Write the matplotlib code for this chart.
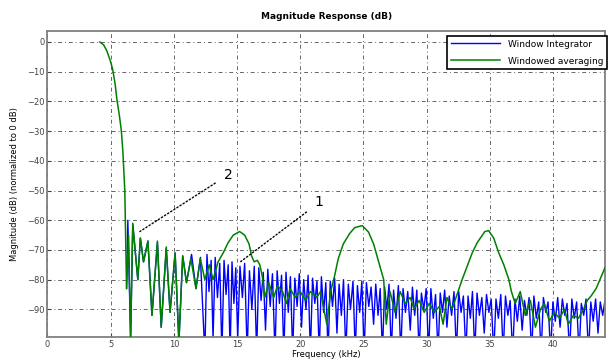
import matplotlib
matplotlib.use("Agg")
from matplotlib import pyplot as plt

# readings from the picture (kHz, dB)
green_freq = [4.15, 4.45, 4.7, 4.95, 5.15, 5.35, 5.5, 5.7, 5.85, 5.97, 6.05, 6.12,
              6.26, 6.42, 6.58, 6.75, 7.15, 7.35, 7.6, 7.95, 8.27, 8.7, 9.0, 9.4,
              9.7, 10.1, 10.4, 10.7, 11.0, 11.35, 11.75, 12.1, 12.45, 12.8, 13.1, 13.5,
              13.9, 14.3, 14.7, 15.2, 15.6, 15.95, 16.15, 16.35, 16.6, 16.8, 17.0, 17.2,
              17.5, 17.9, 18.2, 18.6, 18.9, 19.2, 19.6, 20.0, 20.4, 20.8, 21.3, 21.6,
              22.1, 22.4, 22.7, 23.0, 23.4, 23.9, 24.3, 24.9, 25.4, 25.8, 26.2, 26.6,
              26.8, 27.1, 27.5, 27.9, 28.3, 28.7, 29.0, 29.4, 29.8, 30.2, 30.6, 31.0,
              31.3, 31.6, 32.0, 32.4, 32.8, 33.2, 33.6, 34.0, 34.6, 34.9, 35.3, 35.7,
              36.1, 36.5, 36.7, 37.0, 37.4, 37.8, 38.2, 38.6, 39.0, 39.3, 39.7, 40.1,
              40.5, 40.9, 41.2, 41.6, 42.0, 42.4, 42.7, 43.0, 43.4, 43.8, 44.1]
green_db = [0, -1, -3, -6, -9, -14, -19.5, -25, -30, -37, -44, -50,
            -83, -65, -100, -61, -80, -66, -74, -67, -92, -67, -96, -69,
            -91, -71, -101, -72, -81, -73, -83, -73, -80, -75, -80, -74,
            -71, -67.5, -65, -63.8, -65, -68, -72, -74, -73.5, -75, -79, -86,
            -81, -86, -82, -84, -88, -83, -86, -84, -87, -84, -86, -84,
            -95, -84, -79, -73, -68, -64.5, -62.5, -61.8, -64, -68, -74, -80,
            -95, -84, -91, -84, -88, -86, -90, -87, -91, -88, -91, -89,
            -95, -86, -90, -85, -80, -75.5, -71, -67.5, -63.8, -63.5, -66, -71,
            -75, -80, -84, -88, -84, -92, -87, -96, -90, -88, -94, -91,
            -93, -90, -95, -92, -93, -90, -87, -85.5, -83, -79, -76]

blue_freq = [6.26, 6.36, 6.58, 6.75, 7.15, 7.35, 7.6, 7.95, 8.27, 8.7, 9.0, 9.4,
             9.7, 10.1, 10.4, 10.7, 11.0, 11.4, 11.75, 12.1,
             12.45, 12.62, 12.78, 12.95, 13.1, 13.27, 13.45, 13.63,
             13.8, 13.97, 14.13, 14.3, 14.45, 14.6, 14.75, 14.9,
             15.05, 15.23, 15.42, 15.6, 15.8, 15.98, 16.17, 16.36,
             16.55, 16.72, 16.9, 17.07, 17.25, 17.43, 17.62, 17.8,
             18.0, 18.17, 18.35, 18.52, 18.7, 18.87, 19.05, 19.22,
             19.4, 19.57, 19.75, 19.92, 20.1, 20.27, 20.45, 20.62,
             20.8, 20.97, 21.15, 21.32, 21.5, 21.67, 21.85, 22.02,
             22.2, 22.37, 22.55, 22.72, 22.9, 23.07, 23.25, 23.42,
             23.6, 23.8, 23.97, 24.17, 24.35, 24.52, 24.7, 24.87,
             25.05, 25.23, 25.42, 25.6, 25.8, 25.97, 26.15, 26.32,
             26.5, 26.67, 26.85, 27.02, 27.2, 27.38, 27.57, 27.76,
             27.95, 28.13, 28.32, 28.5, 28.7, 28.87, 29.05, 29.22,
             29.4, 29.58, 29.77, 29.96, 30.15, 30.33, 30.52, 30.7,
             30.9, 31.07, 31.25, 31.42, 31.6, 31.78, 31.97, 32.16,
             32.35, 32.53, 32.72, 32.9, 33.1, 33.27, 33.45, 33.62,
             33.8, 33.98, 34.17, 34.36, 34.55, 34.73, 34.92, 35.1,
             35.3, 35.48, 35.67, 35.86, 36.05, 36.23, 36.42, 36.6,
             36.8, 36.98, 37.17, 37.36, 37.55, 37.73, 37.92, 38.1,
             38.3, 38.48, 38.67, 38.86, 39.05, 39.23, 39.42, 39.6,
             39.8, 39.98, 40.17, 40.36, 40.55, 40.73, 40.92, 41.1,
             41.3, 41.48, 41.67, 41.86, 42.05, 42.23, 42.42, 42.6,
             42.8, 42.98, 43.17, 43.36, 43.55, 43.73, 43.92, 44.1]
blue_db = [-83, -60, -100, -61.5, -80, -66, -74, -67, -92, -67.5, -96, -69.5,
           -91, -71, -101, -72, -81, -71.5, -83, -72.5,
           -105, -71.5, -84, -73.5, -100, -72.5, -86, -74.5,
           -105, -73.5, -85, -75, -105, -74, -88, -76,
           -100, -75.5, -86, -74.5, -105, -77, -90, -75.5,
           -105, -76, -87, -77.5, -97, -76.5, -89, -78,
           -105, -77, -88, -78.5, -105, -77.5, -91, -79,
           -105, -79.5, -89, -78, -96, -80, -90, -78.5,
           -105, -79.5, -88, -80.5, -105, -79, -91, -81,
           -105, -80.5, -89, -79.5, -98, -81.5, -92, -80,
           -105, -81.5, -90, -80.5, -105, -82, -91, -80.5,
           -105, -81, -89, -82.5, -95, -81.5, -92, -83,
           -105, -82.5, -90, -81.5, -105, -83.5, -93, -82,
           -105, -83, -91, -84, -97, -82.5, -92, -83.5,
           -105, -84.5, -90, -83, -105, -83, -93, -85,
           -105, -84.5, -91, -83.5, -96, -85.5, -92, -84,
           -105, -84, -91, -85.5, -105, -85.5, -93, -84,
           -105, -84.5, -92, -86, -98, -85, -91, -86.5,
           -105, -86.5, -93, -85, -105, -85.5, -92, -87,
           -105, -86.5, -94, -85.5, -97, -87, -92, -86,
           -105, -85.5, -93, -87.5, -105, -86, -91, -87.5,
           -105, -87.5, -94, -86, -96, -86.5, -92, -88,
           -105, -86.5, -93, -87.5, -105, -88, -92, -86.5,
           -105, -87.5, -94, -86.5, -98, -87.5, -92, -87]

x_ticks = [0, 5, 10, 15, 20, 25, 30, 35, 40]
y_ticks = [0, -10, -20, -30, -40, -50, -60, -70, -80, -90]
legend_labels = ["Window Integrator", "Windowed averaging"]

fig = plt.figure(figsize=(6.08, 3.63), dpi=100)
ax = fig.add_axes([0.078, 0.0716, 0.917, 0.843])

l1, = ax.plot(blue_freq, blue_db, color="#0000ff", lw=1.0, zorder=2)
l2, = ax.plot(green_freq, green_db, color="#008000", lw=1.1, zorder=3)

ax.set_xlim(0, 44.1)
ax.set_ylim(-99.3, 3.7)
ax.set_xticks(x_ticks)
ax.set_yticks(y_ticks)
ax.tick_params(direction="in", labelsize=6, length=3, pad=2, colors="#444444")
ax.grid(True, color="#666666", linestyle=(0, (4, 3, 1, 3)), linewidth=0.7)
for s in ax.spines.values():
    s.set_color("#808080")
    s.set_linewidth(1.3)

ax.set_title("Magnitude Response (dB)", fontsize=6.5, fontweight="bold", pad=9)
ax.set_xlabel("Frequency (kHz)", fontsize=6, labelpad=1)
ax.set_ylabel("Magnitude (dB) (normalized to 0 dB)", fontsize=6, labelpad=6)

ax.annotate("2", xy=(7.31, -63.8), xytext=(14.3, -44.7), fontsize=10,
            ha="center", va="center",
            arrowprops=dict(arrowstyle="-", linestyle=":", color="black", lw=1,
                            shrinkA=5, shrinkB=0))
ax.annotate("1", xy=(15.2, -74.2), xytext=(21.5, -54), fontsize=10,
            ha="center", va="center",
            arrowprops=dict(arrowstyle="-", linestyle=":", color="black", lw=1,
                            shrinkA=5, shrinkB=0))

leg = ax.legend([l1, l2], legend_labels, loc="upper right", bbox_to_anchor=(1.003, 0.984),
                borderaxespad=0, fontsize=6.5, handlelength=5.5, labelspacing=0.9,
                fancybox=False, framealpha=1, edgecolor="black")
leg.get_frame().set_linewidth(1.2)

fig.savefig("out.png", dpi=100)
